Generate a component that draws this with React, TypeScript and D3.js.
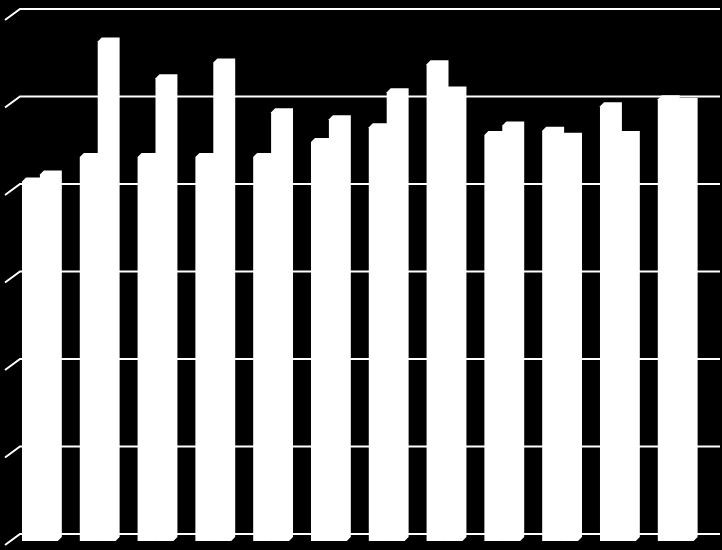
import React from 'react'
import { scaleBand, scaleLinear, range } from 'd3'

// one group per month, two series each
const categories = ['1', '2', '3', '4', '5', '6', '7', '8', '9', '10', '11', '12']
const seriesA = [41.1, 43.9, 43.9, 43.9, 43.9, 45.6, 47.3, 54.5, 46.4, 46.9, 49.7, 50.5]
const seriesB = [41.9, 57.1, 52.9, 54.7, 49.0, 48.2, 51.3, 51.5, 47.5, 46.2, 46.4, 50.2]
const yTicks = [0, 10, 20, 30, 40, 50, 60]

const W = 722
const H = 550
const depth = 4      // bar depth (3D offset)
const wallDx = 15    // back wall offset
const wallDy = 7     // y shift from bar plane to back wall

const App = () => {
  const x = scaleBand<string>()
    .domain(categories)
    .range([11, 704.6])
    .paddingInner(0.38)
    .paddingOuter(0.19)
  const sub = scaleBand<string>().domain(['a', 'b']).range([0, x.bandwidth()])
  const y = scaleLinear().domain([0, 60]).range([541, 16])

  const bar = (cx: number, v: number) => {
    const w = sub.bandwidth()
    const top = y(v)
    const base = y(0)
    const d = depth
    return `M${cx},${base} L${cx},${top} L${cx + d},${top - d} L${cx + w + d},${top - d} L${cx + w + d},${base - d} L${cx + w},${base} Z`
  }

  return (
    <svg width={W} height={H} style={{ position: 'absolute', top: 0, left: 0, background: '#000' }}>
      <rect width={W} height={H} fill="#000" />
      <g id="grid" stroke="#fff" strokeWidth={2} fill="none">
        {yTicks.map(t => {
          const gy = y(t) - wallDy
          return (
            <path key={t} d={`M5,${gy + 11} L${5 + wallDx},${gy} L720,${gy}`} />
          )
        })}
      </g>
      <g id="bars" fill="#fff">
        {range(categories.length).map(i => {
          const gx = x(categories[i]) as number
          return (
            <g key={i}>
              <path d={bar(gx + (sub('b') as number), seriesB[i])} />
              <path d={bar(gx + (sub('a') as number), seriesA[i])} />
            </g>
          )
        })}
      </g>
    </svg>
  )
}

export default App
